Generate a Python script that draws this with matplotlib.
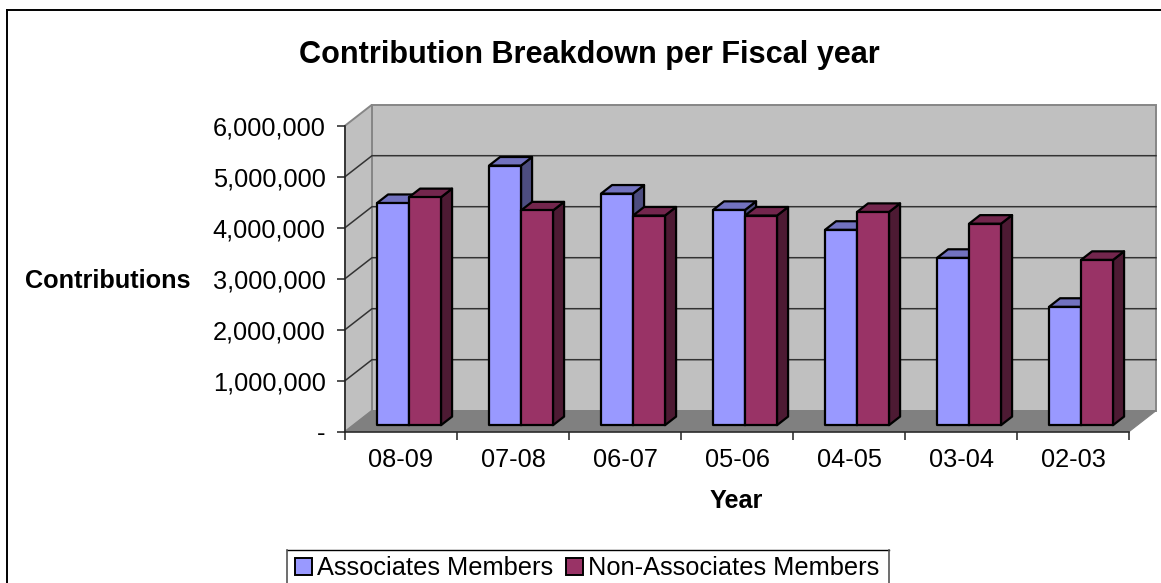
import matplotlib
matplotlib.use("Agg")
import matplotlib.pyplot as plt
from matplotlib.patches import Polygon, Rectangle
from matplotlib.lines import Line2D

W, H = 1161, 583

# Contributions per fiscal year
years = ["08-09", "07-08", "06-07", "05-06", "04-05", "03-04", "02-03"]
associates = [4355000, 5090000, 4540000, 4220000, 3830000, 3280000, 2320000]
non_associates = [4470000, 4210000, 4110000, 4110000, 4180000, 3950000, 3240000]
value_ticks = [0, 1000000, 2000000, 3000000, 4000000, 5000000, 6000000]

plt.rcParams["font.family"] = ["Liberation Sans", "DejaVu Sans"]
fig = plt.figure(figsize=(W / 100, H / 100), dpi=100, facecolor="white")


def px_axes(left, top, right, bottom):
    return [left / W, 1 - bottom / H, (right - left) / W, (bottom - top) / H]


def px_line(x0, y0, x1, y1, **kw):
    fig.add_artist(Line2D([x0 / W, x1 / W], [1 - y0 / H, 1 - y1 / H],
                          transform=fig.transFigure, **kw))


ax = fig.add_axes(px_axes(345, 125.7, 1129, 431.7))
ax.set_xlim(0, len(years))
ax.set_ylim(0, value_ticks[-1])
ax.patch.set_visible(False)

# Oblique projection of the chart box: full depth in axis units
x_per_px = len(years) / (1129 - 345)
y_per_px = value_ticks[-1] / (431.7 - 125.7)
DEPTH_X = 27 * x_per_px
DEPTH_Y = 21 * y_per_px


def proj(x, y, d=0.0):
    return (x + d * DEPTH_X, y + d * DEPTH_Y)


def face(points, **kw):
    kw.setdefault("clip_on", False)
    ax.add_patch(Polygon([proj(*p) for p in points], closed=True, **kw))


n = len(years)
top = value_ticks[-1]
WALL, WALL_EDGE, GRID = "#c0c0c0", "#868686", "#333333"

# Back wall, side wall and floor
face([(0, 0, 1), (n, 0, 1), (n, top, 1), (0, top, 1)], fc=WALL, ec=WALL_EDGE, lw=1.4, zorder=1)
face([(0, 0, 0), (0, 0, 1), (0, top, 1), (0, top, 0)], fc=WALL, ec=WALL_EDGE, lw=1.4, zorder=1)
for v in value_ticks[1:-1]:
    xs, ys = zip(proj(0, v, 0), proj(0, v, 1), proj(n, v, 1))
    ax.plot(xs, ys, color=GRID, lw=1.1, clip_on=False, zorder=1.5)
face([(0, 0, 0), (n, 0, 0), (n, 0, 1), (0, 0, 1)], fc="#808080", ec="#808080", lw=0.8, zorder=1.6)

# Bars: two per category, placed between depth fractions
BAR_WIDTH = 32 * x_per_px
BAR_START = 32 * x_per_px
FRONT, BACK = 0.31, 0.72
LINE = "#000000"


def bar3d(x0, value, front, topc, side):
    x1 = x0 + BAR_WIDTH
    kw = dict(ec=LINE, lw=1.6, joinstyle="round", zorder=3)
    face([(x1, 0, FRONT), (x1, 0, BACK), (x1, value, BACK), (x1, value, FRONT)], fc=side, **kw)
    face([(x0, value, FRONT), (x1, value, FRONT), (x1, value, BACK), (x0, value, BACK)], fc=topc, **kw)
    face([(x0, 0, FRONT), (x1, 0, FRONT), (x1, value, FRONT), (x0, value, FRONT)], fc=front, **kw)


for i, (a, b) in enumerate(zip(associates, non_associates)):
    start = i + BAR_START - FRONT * DEPTH_X
    bar3d(start, a, "#9999ff", "#7272bf", "#4d4d80")
    bar3d(start + BAR_WIDTH, b, "#993366", "#73264d", "#4d1a33")

# Front axes with outward ticks
for side in ("top", "right"):
    ax.spines[side].set_visible(False)
for side in ("left", "bottom"):
    ax.spines[side].set_linewidth(1.1)
    ax.spines[side].set_color("#222222")
    ax.spines[side].set_zorder(2)
ax.set_yticks(value_ticks)
ax.set_yticklabels(["-" if v == 0 else f"{v:,}" for v in value_ticks])
ax.set_xticks(range(n + 1))
ax.set_xticklabels([])
ax.set_xticks([i + 0.5 for i in range(n)], labels=years, minor=True)
ax.tick_params(axis="y", length=6, width=1.1, labelsize=18.3, pad=8, color="#222222")
ax.tick_params(axis="x", which="major", length=6, width=1.1, color="#222222")
ax.tick_params(axis="x", which="minor", length=0, labelsize=18.3, pad=12)

# Titles
fig.text(589.5 / W, 1 - 55 / H, "Contribution Breakdown per Fiscal year",
         ha="center", va="center", fontsize=22.1, fontweight="bold")
fig.text(107.5 / W, 1 - 281 / H, "Contributions", ha="center", va="center",
         fontsize=18.2, fontweight="bold")
fig.text(736 / W, 1 - 501 / H, "Year", ha="center", va="center",
         fontsize=18.2, fontweight="bold")

# Outer frame: only its top and left edges fall inside the canvas
px_line(7, 10, W, 10, color="black", lw=1.4)
px_line(7, 10, 7, H, color="black", lw=1.4)

# Legend box runs past the lower edge of the canvas
px_line(287, 549.5, 889, 549.5, color="black", lw=1)
px_line(287, 549.5, 287, H, color="#555555", lw=1.2)
px_line(889, 549.5, 889, H, color="#555555", lw=1.2)

handles = [Rectangle((0, 0), 1, 1, fc="#9999ff", ec="black", lw=1.4),
           Rectangle((0, 0), 1, 1, fc="#993366", ec="black", lw=1.4)]
leg = fig.legend(handles, ["Associates Members", "Non-Associates Members"], ncol=2,
                 loc="upper left", bbox_to_anchor=(295 / W, 1 - 556 / H),
                 fontsize=18.3, frameon=False, handlelength=0.66, handleheight=0.66,
                 handletextpad=0.2, columnspacing=0.51, borderpad=0, borderaxespad=0)

fig.savefig("out.png", dpi=100)
